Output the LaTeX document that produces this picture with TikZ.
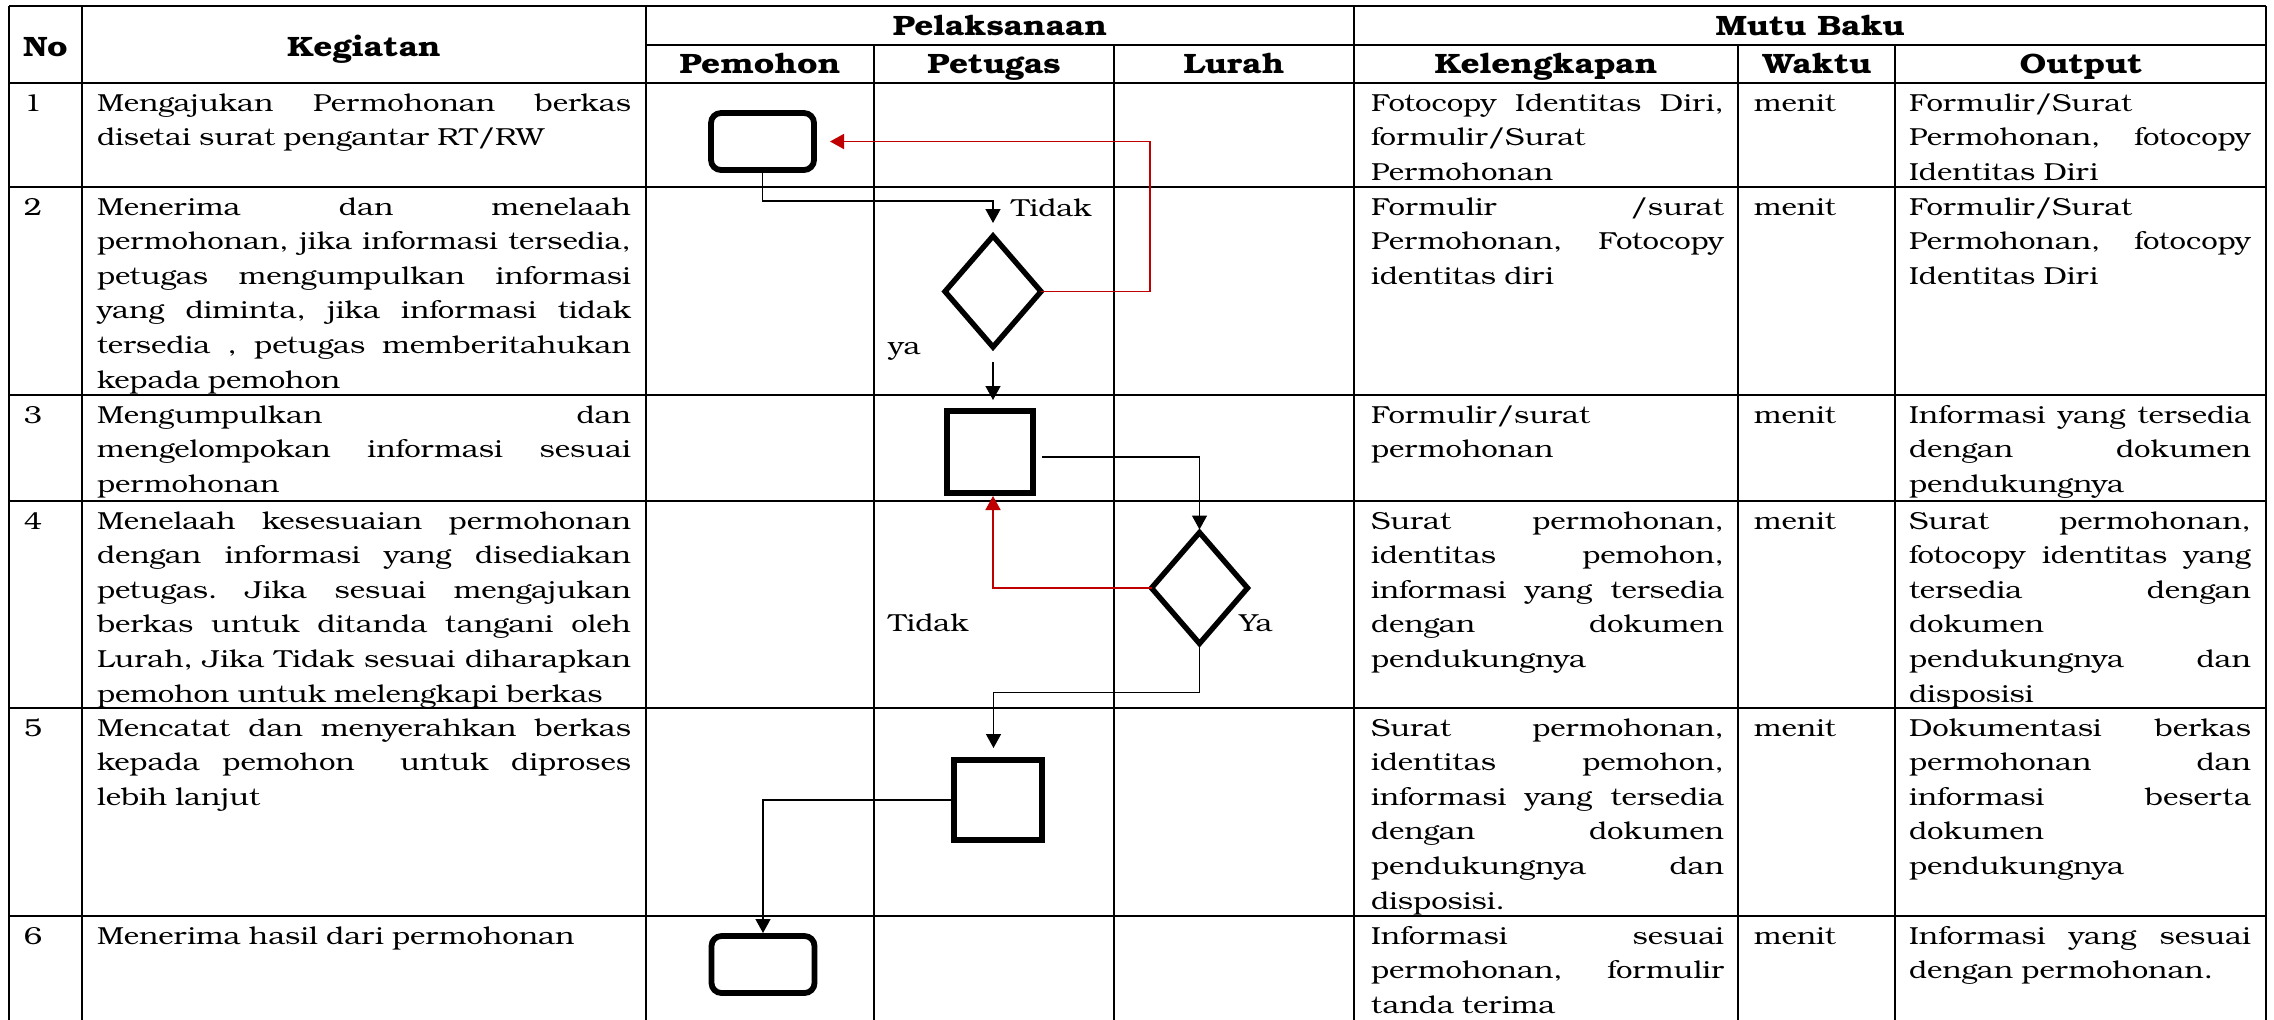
\documentclass[tikz,border=0pt]{standalone}
\usepackage{fontspec}
\usetikzlibrary{shapes.geometric,arrows.meta}
\IfFontExistsTF{texgyrebonum-regular.otf}
 {\setmainfont{texgyrebonum}[Extension=.otf,UprightFont=*-regular,BoldFont=*-bold,ItalicFont=*-italic,BoldItalicFont=*-bolditalic,FakeStretch=1.19]
  \newcommand\bodyfont{\fontsize{12.3pt}{17.3pt}\selectfont\frenchspacing}
  \newcommand\headfont{\fontsize{14pt}{17.3pt}\selectfont\bfseries}}
 {\setmainfont{DejaVu Serif}[FakeStretch=1.2]
  \newcommand\bodyfont{\fontsize{11.5pt}{17.3pt}\selectfont\frenchspacing}
  \newcommand\headfont{\fontsize{12.5pt}{17.3pt}\selectfont\bfseries}}
\frenchspacing
\definecolor{lred}{HTML}{C00000}
\newcommand\jline[1]{\makebox[\hsize][s]{\spaceskip=0pt\relax\xspaceskip=0pt\relax #1}\\}
\begin{document}
\begin{tikzpicture}[x=0.5pt,y=-0.5pt,
  grid/.style={line width=1pt},
  cell/.style={anchor=base west,inner sep=0pt,outer sep=0pt,font=\bodyfont},
  head/.style={anchor=base,inner sep=0pt,font=\headfont},
  term/.style={draw,line width=2.9pt,rounded corners=5pt,minimum width=51.5pt,minimum height=28.5pt,inner sep=0pt,outer sep=0pt},
  proc/.style={draw,line width=3.2pt,inner sep=0pt,outer sep=0pt},
  dec/.style={draw,diamond,line width=2.7pt,minimum width=48pt,minimum height=55.5pt,inner sep=0pt,outer sep=0pt},
  flow/.style={line width=0.7pt,-{Triangle[length=7pt,width=7.5pt]}},
  back/.style={flow,draw=lred,color=lred,line width=0.85pt},
  lbl/.style={anchor=base west,inner sep=0pt,font=\bodyfont}]
\fill[white] (0,0) rectangle (2274,1019);
\useasboundingbox (0,0) rectangle (2274,1019);
% grid
\draw[grid] (9,6) -- (2266,6);
\draw[grid] (646,45) -- (2266,45);
\foreach \y in {83,187,395,501,708,916} \draw[grid] (9,\y) -- (2266,\y);
\foreach \x in {9,82,646,1354,2266} \draw[grid] (\x,6) -- (\x,1025);
\foreach \x in {874,1114,1738,1895} \draw[grid] (\x,45) -- (\x,1025);
% headers
\node[head] (hNo) at (45.5,56) {No};
\node[head] (hKeg) at (364,56) {Kegiatan};
\node[head] (hPel) at (1000,35) {Pelaksanaan};
\node[head] (hMutu) at (1810,35) {Mutu Baku};
\node[head] (hPem) at (760,73.5) {Pemohon};
\node[head] (hPet) at (994,73.5) {Petugas};
\node[head] (hLur) at (1234,73.5) {Lurah};
\node[head] (hKel) at (1546,73.5) {Kelengkapan};
\node[head] (hWak) at (1817,73.5) {Waktu};
\node[head] (hOut) at (2081,73.5) {Output};
% row 1
\node[cell] (n1) at (24,111) {1};
\node[cell,text width=267pt] (k1) at (97,111) {\jline{Mengajukan Permohonan berkas}disetai surat pengantar RT/RW};
\node[cell,text width=176.5pt] (l1) at (1371,111) {\jline{Fotocopy Identitas Diri,}formulir/Surat\\Permohonan};
\node[cell] (w1) at (1754,111) {menit};
\node[cell,text width=171pt] (o1) at (1909,111) {Formulir/Surat\\\jline{Permohonan, fotocopy}Identitas Diri};
% row 2
\node[cell] (n2) at (24,215) {2};
\node[cell,text width=267pt] (k2) at (97,215) {\jline{Menerima dan menelaah}\jline{permohonan, jika informasi tersedia,}\jline{petugas mengumpulkan informasi}\jline{yang diminta, jika informasi tidak}\jline{tersedia , petugas memberitahukan}kepada pemohon};
\node[cell,text width=176.5pt] (l2) at (1371,215) {\jline{Formulir /surat}\jline{Permohonan, Fotocopy}identitas diri};
\node[cell] (w2) at (1754,215) {menit};
\node[cell,text width=171pt] (o2) at (1909,215) {Formulir/Surat\\\jline{Permohonan, fotocopy}Identitas Diri};
% row 3
\node[cell] (n3) at (24,423) {3};
\node[cell,text width=267pt] (k3) at (97,423) {\jline{Mengumpulkan dan}\jline{mengelompokan informasi sesuai}permohonan};
\node[cell,text width=176.5pt] (l3) at (1371,423) {Formulir/surat\\permohonan};
\node[cell] (w3) at (1754,423) {menit};
\node[cell,text width=171pt] (o3) at (1909,423) {\jline{Informasi yang tersedia}\jline{dengan dokumen}pendukungnya};
% row 4
\node[cell] (n4) at (24,529) {4};
\node[cell,text width=267pt] (k4) at (97,529) {\jline{Menelaah kesesuaian permohonan}\jline{dengan informasi yang disediakan}\jline{petugas. Jika sesuai mengajukan}\jline{berkas untuk ditanda tangani oleh}\jline{Lurah, Jika Tidak sesuai diharapkan}pemohon untuk melengkapi berkas};
\node[cell,text width=176.5pt] (l4) at (1371,529) {\jline{Surat permohonan,}\jline{identitas pemohon,}\jline{informasi yang tersedia}\jline{dengan dokumen}pendukungnya};
\node[cell] (w4) at (1754,529) {menit};
\node[cell,text width=171pt] (o4) at (1909,529) {\jline{Surat permohonan,}\jline{fotocopy identitas yang}\jline{tersedia dengan}dokumen\\\jline{pendukungnya dan}disposisi};
% row 5
\node[cell] (n5) at (24,736) {5};
\node[cell,text width=267pt] (k5) at (97,736) {\jline{Mencatat dan menyerahkan berkas}\jline{kepada pemohon \ untuk diproses}lebih lanjut};
\node[cell,text width=176.5pt] (l5) at (1371,736) {\jline{Surat permohonan,}\jline{identitas pemohon,}\jline{informasi yang tersedia}\jline{dengan dokumen}\jline{pendukungnya dan}disposisi.};
\node[cell] (w5) at (1754,736) {menit};
\node[cell,text width=171pt] (o5) at (1909,736) {\jline{Dokumentasi berkas}\jline{permohonan dan}\jline{informasi beserta}dokumen\\pendukungnya};
% row 6
\node[cell] (n6) at (24,944) {6};
\node[cell,text width=267pt] (k6) at (97,944) {Menerima hasil dari permohonan};
\node[cell,text width=176.5pt] (l6) at (1371,944) {\jline{Informasi sesuai}\jline{permohonan, formulir}tanda terima};
\node[cell] (w6) at (1754,944) {menit};
\node[cell,text width=171pt] (o6) at (1909,944) {\jline{Informasi yang sesuai}dengan permohonan.};
% flow shapes
\node[term] (t1) at (762.5,141.5) {};
\node[dec] (d1) at (993,291.5) {};
\node[proc,minimum width=43pt,minimum height=41pt] (r3) at (990,452) {};
\node[dec] (d2) at (1199.5,588) {};
\node[proc,minimum width=44pt,minimum height=40pt] (r5) at (998,800) {};
\node[term] (t6) at (763,964.5) {};
% connectors
\draw[flow,shorten >=6.5pt] (t1.south) -- ++(0,31) -| (d1.north);
\draw[back,shorten >=8pt] (d1.east) -- ++(109,0) |- (t1.east);
\draw[flow,shorten <=7.5pt,shorten >=5.5pt] (d1.south) -- (d1.south |- r3.north);
\draw[flow,shorten <=4.5pt,shorten >=1.5pt] ([yshift=-2.5pt]r3.east) -| (d2.north);
\draw[back,shorten >=1.5pt] (d2.west) -| (d1.south |- r3.south);
\draw[flow,shorten >=6pt] (d2.south) -- ++(0,49) -| ([xshift=-2.25pt]r5.north);
\draw[flow,shorten >=1.5pt] (r5.west) -| (t6.north);
% labels
\node[lbl] (lt1) at (1011,216) {Tidak};
\node[lbl] (lya) at (888,354) {ya};
\node[lbl] (lt2) at (888,631.5) {Tidak};
\node[lbl] (lYa) at (1239,631.5) {Ya};
\end{tikzpicture}
\end{document}
